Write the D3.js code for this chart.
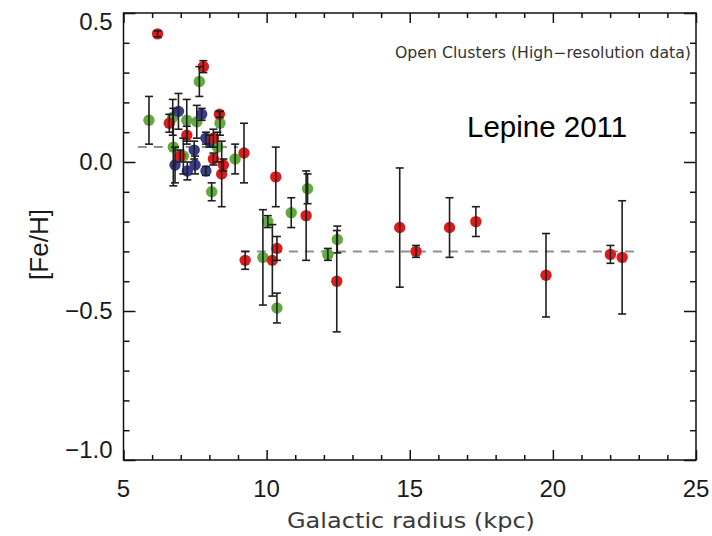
<!DOCTYPE html>
<html>
<head>
<meta charset="utf-8">
<script src="https://cdn.jsdelivr.net/npm/d3@7"></script>
<style>
  html, body { margin: 0; padding: 0; background: #fff; }
  svg { display: block; }
</style>
</head>
<body>
<svg id="chart" width="712" height="536"></svg>
<script>
// Open cluster metallicities vs galactocentric radius: [R (kpc), [Fe/H], error]
const redR   = [6.19, 7.79, 6.60, 8.35, 7.21, 8.14, 6.98, 8.14, 8.49, 8.43, 9.21, 9.25, 10.20, 10.36, 10.32, 11.38, 12.45, 14.65, 15.22, 16.39, 17.31, 19.76, 22.01, 22.42];
const redFe  = [0.43, 0.32, 0.13, 0.16, 0.09, 0.08, 0.02, 0.01, -0.01, -0.04, 0.03, -0.33, -0.33, -0.29, -0.05, -0.18, -0.40, -0.22, -0.30, -0.22, -0.20, -0.38, -0.31, -0.32];
const redErr = [0.01, 0.02, 0.03, 0.01, 0.03, 0.03, 0.02, 0.02, 0.02, 0.11, 0.10, 0.03, 0.12, 0.04, 0.10, 0.15, 0.17, 0.20, 0.02, 0.10, 0.05, 0.14, 0.03, 0.19];

const greenR   = [5.89, 7.65, 6.72, 7.21, 7.56, 8.37, 6.74, 7.09, 8.28, 8.90, 8.08, 9.87, 10.04, 10.36, 10.86, 11.43, 12.14, 12.47];
const greenFe  = [0.14, 0.27, 0.15, 0.14, 0.135, 0.13, 0.05, 0.02, 0.05, 0.01, -0.10, -0.32, -0.20, -0.49, -0.17, -0.09, -0.31, -0.26];
const greenErr = [0.08, 0.05, 0.06, 0.07, 0.055, 0.04, 0.13, 0.06, 0.05, 0.05, 0.03, 0.16, 0.02, 0.05, 0.05, 0.05, 0.02, 0.045];

const blueR   = [6.92, 7.73, 8.00, 7.88, 7.47, 6.80, 7.23, 7.50, 7.88];
const blueFe  = [0.17, 0.16, 0.07, 0.08, 0.04, -0.01, -0.03, -0.01, -0.03];
const blueErr = [0.06, 0.02, 0.02, 0.02, 0.03, 0.06, 0.03, 0.03, 0.015];

// Mean metallicity levels (inner and outer disc)
const innerLevelR = [5.5, 9.0];
const innerLevelFe = 0.05;
const outerLevelR = [9.1, 22.9];
const outerLevelFe = -0.30;

// Axis ticks
const xMajorTicks = [5, 10, 15, 20, 25];
const xMinorTicks = [6, 7, 8, 9, 11, 12, 13, 14, 16, 17, 18, 19, 21, 22, 23, 24];
const yMajorTicks = [0.5, 0.0, -0.5, -1.0];
const yMinorTicks = [0.4, 0.3, 0.2, 0.1, -0.1, -0.2, -0.3, -0.4, -0.6, -0.7, -0.8, -0.9];
const yTickLabels = ["0.5", "0.0", "\u22120.5", "\u22121.0"];

(function draw() {
  const svg = d3.select("#chart");
  const pLeft = 123.5, pRight = 696, pTop = 13, pBottom = 460;

  const x = d3.scaleLinear().domain([5, 25]).range([pLeft, pRight]);
  const y = d3.scaleLinear().domain([-1.0, 0.5]).range([pBottom, pTop]);

  const series = [
    { r: greenR, fe: greenFe, err: greenErr, color: "#62aa3c" },
    { r: blueR,  fe: blueFe,  err: blueErr,  color: "#383c8e" },
    { r: redR,   fe: redFe,   err: redErr,   color: "#dc1e1e" }
  ];

  // Dashed mean levels
  const dash = svg.append("g")
    .attr("stroke", "#8f8f8f").attr("stroke-width", 2)
    .attr("stroke-dasharray", "9,7").attr("fill", "none");
  dash.append("line")
    .attr("x1", x(innerLevelR[0])).attr("x2", x(innerLevelR[1]))
    .attr("y1", y(innerLevelFe)).attr("y2", y(innerLevelFe));
  dash.append("line")
    .attr("x1", x(outerLevelR[0])).attr("x2", x(outerLevelR[1]))
    .attr("y1", y(outerLevelFe)).attr("y2", y(outerLevelFe));

  // Filled markers
  const soft = svg.append("defs").append("filter").attr("id", "soft");
  soft.append("feGaussianBlur").attr("stdDeviation", 0.5);

  series.forEach(s => {
    svg.append("g").attr("filter", "url(#soft)")
      .selectAll("circle")
      .data(d3.range(s.r.length))
      .join("circle")
      .attr("cx", i => x(s.r[i]))
      .attr("cy", i => y(s.fe[i]))
      .attr("r", 5.7)
      .attr("fill", s.color);
  });

  // Error bars with caps
  const capHalf = 4;
  series.forEach(s => {
    const g = svg.append("g").attr("stroke", "#1e1e1e").attr("stroke-width", 1.6);
    const idx = d3.range(s.r.length);
    g.selectAll("line.v").data(idx).join("line").attr("class", "v")
      .attr("x1", i => x(s.r[i])).attr("x2", i => x(s.r[i]))
      .attr("y1", i => y(s.fe[i] + s.err[i])).attr("y2", i => y(s.fe[i] - s.err[i]));
    g.selectAll("line.t").data(idx).join("line").attr("class", "t")
      .attr("x1", i => x(s.r[i]) - capHalf).attr("x2", i => x(s.r[i]) + capHalf)
      .attr("y1", i => y(s.fe[i] + s.err[i])).attr("y2", i => y(s.fe[i] + s.err[i]));
    g.selectAll("line.b").data(idx).join("line").attr("class", "b")
      .attr("x1", i => x(s.r[i]) - capHalf).attr("x2", i => x(s.r[i]) + capHalf)
      .attr("y1", i => y(s.fe[i] - s.err[i])).attr("y2", i => y(s.fe[i] - s.err[i]));
  });

  // Frame
  svg.append("rect")
    .attr("x", pLeft).attr("y", pTop)
    .attr("width", pRight - pLeft).attr("height", pBottom - pTop)
    .attr("fill", "none").attr("stroke", "#111").attr("stroke-width", 1.5);

  // Axes with inward ticks on all four sides
  const axisStyle = g => {
    g.select(".domain").remove();
    g.selectAll(".tick line").attr("stroke", "#111").attr("stroke-width", 1.5);
  };
  const mk = (fn, scale, vals, len) =>
    fn(scale).tickValues(vals).tickSizeInner(-len).tickSizeOuter(0).tickFormat("");

  [[mk(d3.axisBottom, x, xMajorTicks, 10), `translate(0,${pBottom})`],
   [mk(d3.axisBottom, x, xMinorTicks, 5),  `translate(0,${pBottom})`],
   [mk(d3.axisTop, x, xMajorTicks, 10),    `translate(0,${pTop})`],
   [mk(d3.axisTop, x, xMinorTicks, 5),     `translate(0,${pTop})`],
   [mk(d3.axisLeft, y, yMajorTicks, 12),   `translate(${pLeft},0)`],
   [mk(d3.axisLeft, y, yMinorTicks, 6),    `translate(${pLeft},0)`],
   [mk(d3.axisRight, y, yMajorTicks, 12),  `translate(${pRight},0)`],
   [mk(d3.axisRight, y, yMinorTicks, 6),   `translate(${pRight},0)`]]
    .forEach(([ax, tr]) => svg.append("g").attr("transform", tr).call(ax).call(axisStyle));

  // Tick labels
  const labelFont = "'Liberation Sans', Arial, sans-serif";
  svg.append("g").selectAll("text")
    .data(xMajorTicks).join("text")
    .attr("x", d => x(d)).attr("y", pBottom + 37)
    .attr("text-anchor", "middle")
    .attr("font-family", labelFont).attr("font-size", 24).attr("fill", "#1a1a1a")
    .text(d => d);

  svg.append("g").selectAll("text")
    .data(yMajorTicks).join("text")
    .attr("x", pLeft - 11)
    .attr("y", (d, i) => {
      // keep the end labels inside the frame's vertical span
      let shift = 0;
      if (i === 0) shift = 9;
      if (i === yMajorTicks.length - 1) shift = -10;
      return y(d) + shift;
    })
    .attr("dy", "0.35em")
    .attr("text-anchor", "end")
    .attr("font-family", labelFont).attr("font-size", 24).attr("fill", "#1a1a1a")
    .text((d, i) => yTickLabels[i]);

  // Axis titles
  svg.append("text")
    .attr("transform", `translate(48,${(pTop + pBottom) / 2 + 8}) rotate(-90)`)
    .attr("text-anchor", "middle")
    .attr("font-family", labelFont).attr("font-size", 26).attr("fill", "#1a1a1a")
    .text("[Fe/H]");

  svg.append("text")
    .attr("x", 287).attr("y", 528)
    .attr("textLength", 248).attr("lengthAdjust", "spacingAndGlyphs")
    .attr("font-family", "'DejaVu Sans', sans-serif").attr("font-size", 22)
    .attr("fill", "#3a3a3a")
    .text("Galactic radius (kpc)");

  // Annotations
  svg.append("text")
    .attr("x", 395).attr("y", 58)
    .attr("textLength", 296).attr("lengthAdjust", "spacingAndGlyphs")
    .attr("font-family", "'DejaVu Sans', sans-serif").attr("font-size", 15)
    .attr("fill", "#333")
    .text("Open Clusters (High\u2212resolution data)");

  svg.append("text")
    .attr("x", 467).attr("y", 137)
    .attr("font-family", labelFont).attr("font-size", 29.5).attr("fill", "#000")
    .text("Lepine 2011");
})();
</script>
</body>
</html>
